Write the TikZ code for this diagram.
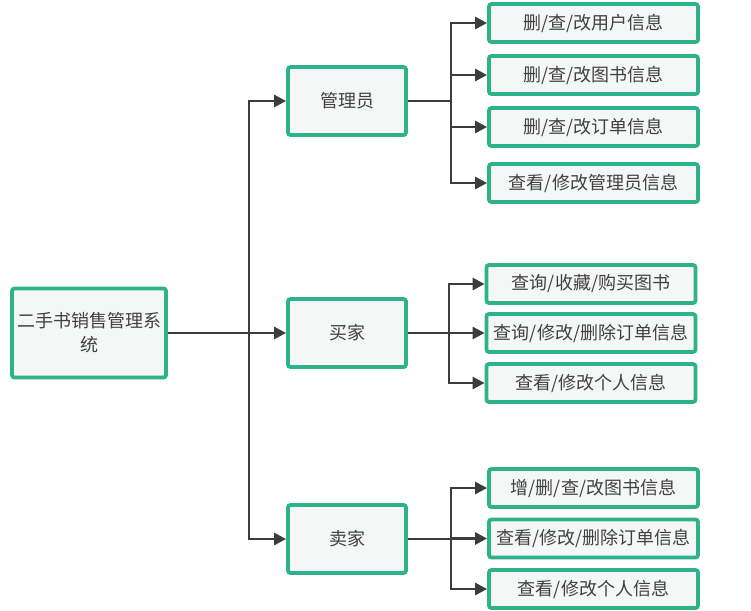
\documentclass[tikz,border=0pt]{standalone}
\usepackage{fontspec}
\newfontfamily\cjk{Noto Sans CJK SC}
\usetikzlibrary{arrows.meta}
\definecolor{BoxGreen}{RGB}{46,178,137}
\definecolor{BoxFill}{RGB}{244,247,246}
\definecolor{LineGray}{RGB}{60,60,60}

\begin{document}
\begin{tikzpicture}[x=1pt, y=-1pt, font=\cjk\fontsize{18}{24}\selectfont, every node/.style={align=center}]
\tikzset{
  nodebox/.style={draw=BoxGreen, line width=3.8pt, rounded corners=2.5pt, fill=BoxFill, text=black!75, inner sep=0pt},
  rootbox/.style={nodebox, minimum width=154pt, minimum height=89pt},
  rolebox/.style={nodebox, minimum width=118pt, minimum height=68pt},
  leafbox/.style={nodebox, minimum width=209pt, minimum height=38pt},
  arr/.style={-{Triangle[length=12pt,width=12pt]}, line width=2.7pt, LineGray},
  link/.style={line width=2.7pt, LineGray}
}
  \useasboundingbox (0,0) rectangle (751,610);
  % root and roles
  \node[rootbox] (root) at (89,333) {二手书销售管理系\\统};
  \node[rolebox] (adm) at (347,101) {管理员};
  \node[rolebox] (buy) at (347,333) {买家};
  \node[rolebox] (sel) at (347,539) {卖家};
  % admin leaves
  \node[leafbox] (a1) at (593.5,23) {删/查/改用户信息};
  \node[leafbox] (a2) at (593.5,75) {删/查/改图书信息};
  \node[leafbox] (a3) at (593.5,127) {删/查/改订单信息};
  \node[leafbox] (a4) at (593.5,183) {查看/修改管理员信息};
  % buyer leaves
  \node[leafbox] (b1) at (591,284) {查询/收藏/购买图书};
  \node[leafbox] (b2) at (591,333) {查询/修改/删除订单信息};
  \node[leafbox] (b3) at (591,383) {查看/修改个人信息};
  % seller leaves
  \node[leafbox] (s1) at (593.5,488) {增/删/查/改图书信息};
  \node[leafbox] (s2) at (593.5,538.5) {查看/修改/删除订单信息};
  \node[leafbox] (s3) at (593.5,589) {查看/修改个人信息};
  % joints
  \coordinate (j0) at (249,333);
  \coordinate (ja) at (451,101);
  \coordinate (jb) at (449,333);
  \coordinate (js) at (451,539);
  % connectors
  \draw[link] (root.east) -- (j0);
  \foreach \r in {adm,buy,sel}
    \draw[arr] (j0) |- (\r.west);
  \draw[link] (adm.east) -- (ja);
  \foreach \l in {a1,a2,a3,a4}
    \draw[arr] (ja) |- (\l.west);
  \draw[link] (buy.east) -- (jb);
  \foreach \l in {b1,b2,b3}
    \draw[arr] (jb) |- (\l.west);
  \draw[link] (sel.east) -- (js);
  \foreach \l in {s1,s2,s3}
    \draw[arr] (js) |- (\l.west);
\end{tikzpicture}
\end{document}
